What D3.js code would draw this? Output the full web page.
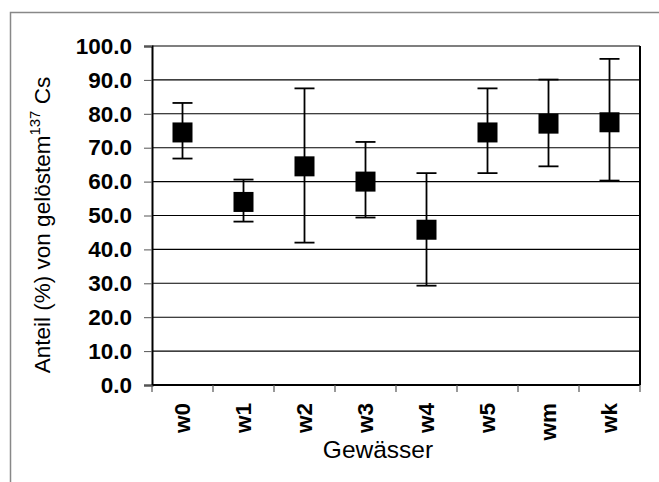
<!DOCTYPE html>
<html>
<head>
<meta charset="utf-8">
<script src="https://cdn.jsdelivr.net/npm/d3@7"></script>
<style>
  body { margin: 0; background: #fff; }
  svg { display: block; }
</style>
</head>
<body>
<svg width="659" height="482"></svg>
<script>
var svg = d3.select("svg"),
  width = +svg.attr("width"),
  height = +svg.attr("height");

// values
var gewaesser = ["w0", "w1", "w2", "w3", "w4", "w5", "wm", "wk"];
var anteil = [74.5, 54.0, 64.5, 60.0, 45.8, 74.5, 77.1, 77.5];
var fehlerOben = [83.2, 60.6, 87.5, 71.7, 62.5, 87.5, 90.1, 96.2];
var fehlerUnten = [66.8, 48.2, 42.0, 49.4, 29.3, 62.5, 64.5, 60.3];
var yTicks = [0, 10, 20, 30, 40, 50, 60, 70, 80, 90, 100];

var plotLeft = 152, plotRight = 640, plotTop = 46, plotBottom = 385;
var font = "Arial, 'Liberation Sans', Helvetica, sans-serif";

var xScale = d3.scaleBand().domain(gewaesser).range([plotLeft, plotRight]);
var yScale = d3.scaleLinear().domain([0, 100]).range([plotBottom, plotTop]);

// outer frame (only top and left edges visible)
svg.append("path")
  .attr("d", "M10.5," + height + "V12.5H" + width)
  .attr("fill", "none")
  .attr("stroke", "#888")
  .attr("stroke-width", 1.5);

// gridlines
svg.append("g")
  .selectAll("line")
  .data(yTicks.slice(1))
  .enter()
  .append("line")
  .attr("x1", plotLeft)
  .attr("x2", plotRight)
  .attr("y1", function (d) { return yScale(d); })
  .attr("y2", function (d) { return yScale(d); })
  .attr("stroke", "#000")
  .attr("stroke-width", 1.1);

// right border
svg.append("line")
  .attr("x1", plotRight).attr("x2", plotRight)
  .attr("y1", plotTop).attr("y2", plotBottom)
  .attr("stroke", "#000").attr("stroke-width", 2);

// y axis
var yAxis = d3.axisLeft(yScale)
  .tickValues(yTicks)
  .tickSize(8)
  .tickPadding(12)
  .tickFormat(d3.format(".1f"));
var gy = svg.append("g").attr("transform", "translate(" + plotLeft + ",0)").call(yAxis);
gy.select(".domain").attr("stroke-width", 2);
gy.selectAll(".tick line").attr("stroke", "#555");
gy.selectAll("text")
  .attr("font-family", font)
  .attr("font-size", 22.5)
  .attr("font-weight", "bold")
  .attr("fill", "#000");

// x axis: ticks between categories
var boundaries = gewaesser.map(function (d) { return xScale(d); }).concat([plotRight]);
var gx = svg.append("g").attr("transform", "translate(0," + plotBottom + ")");
gx.append("line")
  .attr("x1", plotLeft).attr("x2", plotRight)
  .attr("stroke", "#000").attr("stroke-width", 2);
gx.selectAll(".xt")
  .data(boundaries)
  .enter()
  .append("line")
  .attr("class", "xt")
  .attr("x1", function (d) { return d; })
  .attr("x2", function (d) { return d; })
  .attr("y1", 0).attr("y2", 7)
  .attr("stroke", "#555").attr("stroke-width", 1.2);
gx.selectAll("text")
  .data(gewaesser)
  .enter()
  .append("text")
  .attr("transform", function (d) {
    return "translate(" + (xScale(d) + xScale.bandwidth() / 2) + ",18) rotate(-90)";
  })
  .attr("dy", "0.35em")
  .style("text-anchor", "end")
  .attr("font-family", font)
  .attr("font-size", 22.5)
  .attr("font-weight", "bold")
  .text(function (d) { return d; });

// error bars
var cx = function (i) { return xScale(gewaesser[i]) + xScale.bandwidth() / 2; };
var bars = svg.append("g")
  .selectAll("g")
  .data(anteil)
  .enter()
  .append("g");
bars.append("line")
  .attr("x1", function (d, i) { return cx(i); })
  .attr("x2", function (d, i) { return cx(i); })
  .attr("y1", function (d, i) { return yScale(fehlerOben[i]); })
  .attr("y2", function (d, i) { return yScale(fehlerUnten[i]); })
  .attr("stroke", "#000").attr("stroke-width", 1.8);
bars.append("line")
  .attr("x1", function (d, i) { return cx(i) - 10; })
  .attr("x2", function (d, i) { return cx(i) + 10; })
  .attr("y1", function (d, i) { return yScale(fehlerOben[i]); })
  .attr("y2", function (d, i) { return yScale(fehlerOben[i]); })
  .attr("stroke", "#000").attr("stroke-width", 1.8);
bars.append("line")
  .attr("x1", function (d, i) { return cx(i) - 10; })
  .attr("x2", function (d, i) { return cx(i) + 10; })
  .attr("y1", function (d, i) { return yScale(fehlerUnten[i]); })
  .attr("y2", function (d, i) { return yScale(fehlerUnten[i]); })
  .attr("stroke", "#000").attr("stroke-width", 1.8);
bars.append("rect")
  .attr("x", function (d, i) { return cx(i) - 10; })
  .attr("y", function (d) { return yScale(d) - 10; })
  .attr("width", 20)
  .attr("height", 20)
  .attr("fill", "#000");

// axis titles
svg.append("text")
  .attr("transform", "translate(" + ((plotLeft + plotRight) / 2 - 18) + ",458)")
  .style("text-anchor", "middle")
  .attr("font-family", font)
  .attr("font-size", 24.5)
  .text("Gewässer");

var yt = svg.append("text")
  .attr("transform", "translate(50,225) rotate(-90)")
  .style("text-anchor", "middle")
  .attr("font-family", font)
  .attr("font-size", 22.5);
yt.append("tspan").text("Anteil (%) von gelöstem");
yt.append("tspan").attr("font-size", 15).attr("dy", -10).text("137");
yt.append("tspan").attr("dy", 10).text(" Cs");
</script>
</body>
</html>
